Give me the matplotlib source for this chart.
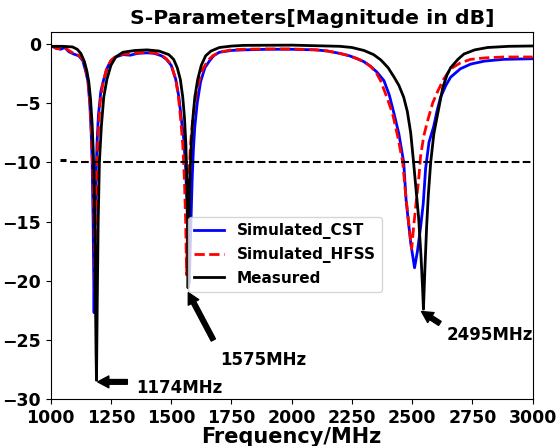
import matplotlib
matplotlib.use("Agg")
import matplotlib.pyplot as plt

# Measured S11 (MHz, dB)
meas_f = [1000, 1050, 1090, 1110, 1125, 1140, 1150, 1158, 1165, 1172, 1177, 1181,
          1184, 1186, 1188, 1190, 1193, 1197, 1202, 1210, 1220, 1233, 1250, 1270,
          1300, 1350, 1400, 1450, 1490, 1510, 1525, 1538, 1548, 1555, 1561, 1565,
          1568, 1570, 1573, 1577, 1582, 1589, 1598, 1610, 1625, 1643, 1665, 1700,
          1750, 1800, 2000, 2200, 2250, 2300, 2340, 2370, 2400, 2425, 2445, 2465,
          2480, 2494, 2506, 2518, 2527, 2537, 2543, 2547, 2553, 2560, 2567, 2577,
          2590, 2606, 2627, 2645, 2660, 2690, 2715, 2760, 2813, 2900, 3000]
meas_db = [-0.2, -0.2, -0.25, -0.45, -0.8, -1.5, -2.3, -3.2, -4.6, -6.8, -9.3, -13,
           -17, -22, -26, -28.4, -22, -15, -10, -7, -4.5, -3, -1.8, -1.1,
           -0.7, -0.55, -0.5, -0.6, -0.9, -1.3, -2.0, -3.0, -4.5, -6.2, -8.5, -11.5,
           -15, -20.6, -15.5, -11.5, -9, -6.5, -4.5, -3.0, -1.8, -1.0, -0.6, -0.3,
           -0.18, -0.12, -0.1, -0.2, -0.3, -0.55, -0.9, -1.35, -2.0, -2.8, -3.5, -4.5,
           -5.7, -7.5, -10, -12.7, -14.7, -18, -20.5, -22.4, -19, -15.5, -12.8, -10,
           -7.6, -5.9, -3.7, -2.6, -2.0, -1.3, -0.85, -0.5, -0.3, -0.2, -0.17]

# Simulated S11, CST
cst_f = [1000, 1008, 1020, 1041, 1058, 1075, 1095, 1116, 1133, 1145, 1154, 1162,
         1168, 1172, 1176, 1180, 1183, 1187, 1192, 1198, 1208, 1220, 1235, 1250,
         1270, 1300, 1330, 1360, 1400, 1430, 1460, 1480, 1500, 1519, 1532, 1543,
         1552, 1560, 1567, 1575, 1582, 1587, 1592, 1598, 1608, 1622, 1640, 1660,
         1676, 1700, 1750, 1800, 1900, 2000, 2100, 2150, 2200, 2240, 2273, 2300,
         2328, 2355, 2383, 2405, 2425, 2445, 2465, 2475, 2494, 2510, 2522, 2535,
         2546, 2556, 2570, 2589, 2604, 2618, 2640, 2660, 2700, 2743, 2800, 2880, 3000]
cst_db = [-0.3, -0.2, -0.35, -0.45, -0.3, -0.65, -0.85, -1.0, -1.4, -2.3, -3.1, -5,
          -7.5, -10, -15, -22.7, -17, -12, -8.5, -6, -4, -3, -2, -1.4,
          -1.1, -0.9, -0.95, -0.8, -0.75, -0.8, -1.0, -1.3, -1.8, -3.0, -4.5, -6.5,
          -8, -10.5, -14.5, -20.2, -15, -11.5, -9, -7, -5, -3.2, -2.0, -1.4,
          -1.0, -0.7, -0.55, -0.5, -0.45, -0.45, -0.5, -0.6, -0.8, -1.0, -1.26, -1.5,
          -1.9, -2.4, -3.1, -4.3, -5.9, -7.6, -10, -13.2, -16.8, -18.9, -17.5, -15.5,
          -13.5, -10.5, -8.3, -7, -5.6, -4.5, -3.5, -2.8, -2.1, -1.7, -1.45, -1.3, -1.25]

# Simulated S11, HFSS
hfss_f = [1000, 1010, 1025, 1040, 1058, 1075, 1095, 1116, 1133, 1145, 1155, 1163,
          1170, 1175, 1180, 1185, 1188, 1192, 1197, 1205, 1215, 1230, 1250, 1270,
          1300, 1330, 1360, 1400, 1430, 1460, 1480, 1500, 1519, 1530, 1540, 1548,
          1555, 1560, 1564, 1568, 1573, 1580, 1590, 1602, 1615, 1632, 1652, 1672,
          1700, 1750, 1800, 1900, 2000, 2100, 2150, 2200, 2240, 2273, 2300, 2328,
          2350, 2369, 2395, 2419, 2440, 2461, 2472, 2485, 2498, 2506, 2516, 2527,
          2535, 2548, 2564, 2585, 2606, 2630, 2660, 2700, 2743, 2800, 2880, 3000]
hfss_db = [-0.25, -0.2, -0.4, -0.4, -0.3, -0.55, -0.8, -0.95, -1.3, -2.1, -3.1, -5,
           -8, -11, -15, -21, -15, -10.5, -7.5, -5, -3.5, -2.2, -1.4, -1.05,
           -0.85, -0.85, -0.75, -0.7, -0.75, -0.95, -1.25, -1.75, -3.0, -4.5, -6.5, -8.5,
           -11.5, -15, -19.5, -15, -11.5, -8.5, -6.2, -4.5, -3.2, -2.1, -1.4, -1.0,
           -0.7, -0.5, -0.45, -0.42, -0.42, -0.5, -0.6, -0.8, -1.0, -1.25, -1.5, -1.9,
           -2.4, -3.1, -4.5, -5.9, -7.8, -10, -12.5, -15, -17.3, -15.5, -13.5, -11.5,
           -9.5, -7.8, -6.5, -5, -4, -3, -2.1, -1.6, -1.3, -1.18, -1.1, -1.1]

# -10 dB reference level and its span
ref_level = -10
ref_span = [1080, 3000]
tick_mark_f = [1040, 1062]
tick_mark_db = [-9.8, -9.8]

# Marked resonances: label, arrow tip, arrow tail, label anchor
marks = [
    ("1174MHz", (1195, -28.54), (1318, -28.54), (1356, -29.07)),
    ("1575MHz", (1571, -21.0), (1675, -25.0), (1702, -26.7)),
    ("2495MHz", (2539, -22.6), (2615, -23.6), (2643, -24.6)),
]

fig = plt.figure(figsize=(5.58, 4.46), dpi=100)
ax = fig.add_axes([0.0909, 0.105, 0.8636, 0.823])

ax.plot(cst_f, cst_db, color="blue", lw=2.0, label="Simulated_CST")
ax.plot(hfss_f, hfss_db, color="red", lw=2.0, ls="--", label="Simulated_HFSS")
ax.plot(meas_f, meas_db, color="black", lw=2.0, label="Measured")
ax.hlines(ref_level, ref_span[0], ref_span[1], color="black", lw=1.5, ls="--")
ax.plot(tick_mark_f, tick_mark_db, color="black", lw=2.2, solid_capstyle="butt")

for text, tip, tail, pos in marks:
    ax.annotate("", xy=tip, xytext=tail,
                arrowprops=dict(facecolor="black", edgecolor="black",
                                width=3.4, headwidth=8.5, headlength=8, shrink=0))
    ax.text(pos[0], pos[1], text, fontsize=12, fontweight="bold",
            ha="left", va="center")

ax.set_xlim(1000, 3000)
ax.set_ylim(-30, 1)
ax.set_xticks([1000, 1250, 1500, 1750, 2000, 2250, 2500, 2750, 3000])
ax.set_yticks([0, -5, -10, -15, -20, -25, -30])
for lab in ax.get_xticklabels() + ax.get_yticklabels():
    lab.set_fontweight("bold")
    lab.set_fontsize(12.5)

ax.set_title("S-Parameters[Magnitude in dB]", fontsize=14.7, fontweight="bold",
             x=0.542)
ax.set_xlabel("Frequency/MHz", fontsize=15, fontweight="bold", labelpad=0)

leg = ax.legend(loc="lower left", bbox_to_anchor=(0.284, 0.293), borderaxespad=0,
                prop=dict(weight="bold", size=11))

fig.savefig("out.png", dpi=100)
